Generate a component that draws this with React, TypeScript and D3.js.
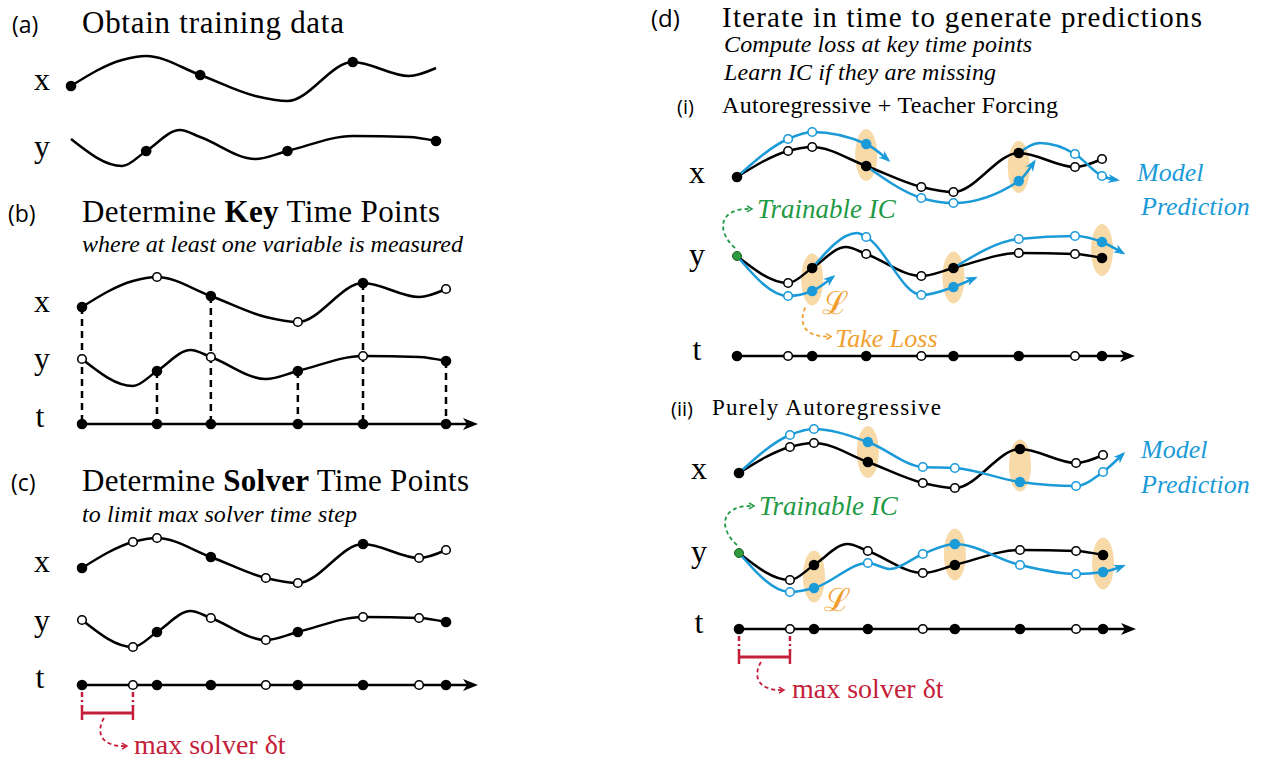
import React from 'react';
import * as d3 from 'd3';

type Pt = [number, number];

// time grid (arbitrary units 0..10)
const solverTimes = [0, 1.4, 2.06, 3.54, 5.05, 5.93, 7.72, 9.26, 10];
const xMeasuredTimes = [0, 3.54, 7.72];
const yMeasuredTimes = [2.06, 5.93, 10];

// ground truth signals [t, value]
const xTruth: Pt[] = [[0, -0.28], [1.4, 0.76], [2.06, 0.92], [3.54, 0.16], [5.05, -0.68], [5.93, -0.88], [7.72, 0.68], [9.26, 0.12], [10, 0.44]];
const yTruth: Pt[] = [[0, 0.12], [1.4, -0.96], [2.06, -0.36], [2.98, 0.48], [3.54, 0.2], [5.05, -0.68], [5.93, -0.36], [7.72, 0.24], [9.26, 0.2], [10, 0.04]];

// (d)(i) teacher forcing: prediction restarts at each measurement
const xTeacherForced: Pt[][] = [
  [[0, -0.28], [1.4, 1.24], [2.06, 1.52], [3.54, 1.04], [4.14, 0.4]],
  [[3.54, 0.16], [5.05, -1.12], [5.93, -1.32], [7.72, -0.44], [8.14, 0.32]],
  [[7.72, 0.68], [8.3, 1.08], [9.26, 0.64], [10, -0.24], [10.41, -0.4]],
];
const yTeacherForced: Pt[][] = [
  [[0, 0.12], [1.4, -1.48], [2.06, -1.28], [2.63, -0.72]],
  [[2.06, -0.36], [3.29, 1.04], [3.54, 0.88], [5.05, -1.44], [5.93, -1.12], [6.52, -0.76]],
  [[5.93, -0.36], [7.72, 0.8], [9.26, 0.92], [10, 0.68], [10.57, 0.24]],
];

// (d)(ii) purely autoregressive
const xAutoregressive: Pt[] = [[0, -0.28], [1.4, 1.24], [2.06, 1.48], [3.54, 0.96], [5.05, -0.04], [5.93, -0.08], [7.72, -0.64], [9.26, -0.8], [10, -0.24], [10.55, 0.48]];
const yAutoregressive: Pt[] = [[0, 0.12], [1.4, -1.44], [2.06, -1.28], [3.54, -0.28], [4.15, -0.52], [5.05, 0.08], [5.93, 0.48], [7.72, -0.36], [9.26, -0.72], [10, -0.64], [10.55, -0.4]];

const keyTimes = Array.from(new Set([...xMeasuredTimes, ...yMeasuredTimes])).sort((a, b) => a - b);

const BLUE = '#1b9ad8';
const GREEN = '#1f9a45';
const ORANGE = '#f0a030';
const RED = '#c41e3a';
const PEACH = '#f8d9a8';
const SERIF = '"Liberation Serif", "Times New Roman", serif';
const SANS = '"Open Sans", "DejaVu Sans", sans-serif';

const has = (arr: number[], t: number) => arr.some((v) => Math.abs(v - t) < 1e-6);
const valueAt = (s: Pt[], t: number) => {
  const p = s.find((d) => Math.abs(d[0] - t) < 1e-6);
  return p ? p[1] : NaN;
};
const rowScale = (center: number) => d3.scaleLinear().domain([-1, 1]).range([center + 25, center - 25]);
type Scale = d3.ScaleLinear<number, number>;
const curvePath = (s: Pt[], xs: Scale, ys: Scale) =>
  d3.line<Pt>().x((d) => xs(d[0])).y((d) => ys(d[1])).curve(d3.curveMonotoneX)(s) || '';

type Kind = 'fill' | 'open' | 'blueFill' | 'blueOpen' | 'green';
function Dot({ x, y, kind }: { x: number; y: number; kind: Kind }) {
  if (kind === 'fill') return <circle cx={x} cy={y} r={5.3} fill="#000" />;
  if (kind === 'open') return <circle cx={x} cy={y} r={4.3} fill="#fff" stroke="#000" strokeWidth={1.6} />;
  if (kind === 'blueFill') return <circle cx={x} cy={y} r={5.2} fill={BLUE} />;
  if (kind === 'blueOpen') return <circle cx={x} cy={y} r={4.3} fill="#fff" stroke={BLUE} strokeWidth={1.6} />;
  return <circle cx={x} cy={y} r={4.5} fill="#2e9a3c" stroke="#1d5f24" strokeWidth={1} />;
}

function TimeAxis({ xs, y, tipX, times }: { xs: Scale; y: number; tipX: number; times: number[] }) {
  return (
    <g>
      <line x1={xs(0)} x2={tipX - 8} y1={y} y2={y} stroke="#000" strokeWidth={2.5} />
      <polygon points={`${tipX},${y} ${tipX - 15},${y - 6} ${tipX - 11},${y} ${tipX - 15},${y + 6}`} fill="#000" />
      {times.map((t) => (
        <Dot key={t} x={xs(t)} y={y} kind={has(keyTimes, t) ? 'fill' : 'open'} />
      ))}
    </g>
  );
}

function Curve({ s, xs, ys, color = '#000', arrow = false }: { s: Pt[]; xs: Scale; ys: Scale; color?: string; arrow?: boolean }) {
  return (
    <path
      d={curvePath(s, xs, ys)}
      fill="none"
      stroke={color}
      strokeWidth={2.5}
      markerEnd={arrow ? 'url(#blueHead)' : undefined}
    />
  );
}

function Label({ x, y, children, size = 32 }: { x: number; y: number; children: string; size?: number }) {
  return (
    <text x={x} y={y} fontFamily={SERIF} fontSize={size} textAnchor="middle">
      {children}
    </text>
  );
}

function SolverBracket({ xs, axisY, textX }: { xs: Scale; axisY: number; textX: number }) {
  const a = xs(0);
  const b = xs(1.4);
  const hy = axisY + 28;
  return (
    <g stroke={RED} fill="none">
      <line x1={a} x2={a} y1={axisY + 7} y2={hy - 6} strokeWidth={2.5} strokeDasharray="5 3 2 3" />
      <line x1={b} x2={b} y1={axisY + 7} y2={hy - 6} strokeWidth={2.5} strokeDasharray="5 3 2 3" />
      <line x1={a} x2={b} y1={hy} y2={hy} strokeWidth={3} />
      <line x1={a} x2={a} y1={hy - 7} y2={hy + 7} strokeWidth={2.5} />
      <line x1={b} x2={b} y1={hy - 7} y2={hy + 7} strokeWidth={2.5} />
      <path
        d={`M${a + 22},${hy + 5} C${a + 13},${hy + 20} ${a + 20},${hy + 34} ${a + 44},${hy + 33}`}
        strokeWidth={1.8}
        strokeDasharray="4 3"
        markerEnd="url(#redHead)"
      />
      <text x={textX} y={axisY + 69} fill={RED} stroke="none" fontFamily={SERIF} fontSize={28}>
        max solver δt
      </text>
    </g>
  );
}

function Forecast({
  xs, xc, yc, axisY, tipX, xPred, yPred, takeLoss,
}: {
  xs: Scale; xc: number; yc: number; axisY: number; tipX: number; xPred: Pt[][]; yPred: Pt[][]; takeLoss: boolean;
}) {
  const ysX = rowScale(xc);
  const ysY = rowScale(yc);
  const rows = [
    { truth: xTruth, preds: xPred, measured: xMeasuredTimes, ys: ysX, name: 'x' },
    { truth: yTruth, preds: yPred, measured: yMeasuredTimes, ys: ysY, name: 'y' },
  ];
  const loss = rows.flatMap((r) =>
    r.preds.flatMap((seg) =>
      r.measured
        .filter((t) => t > seg[0][0] + 1e-6 && t <= seg[seg.length - 1][0])
        .map((t) => ({
          key: r.name + t,
          t,
          cy: (r.ys(valueAt(r.truth, t)) + r.ys(valueAt(seg, t))) / 2,
          first: r.name === 'y' && t === r.measured[0],
        }))
    )
  );
  const lossFirst = loss.find((l) => l.first)!;
  const ex = xs(lossFirst.t);
  const ey = lossFirst.cy;
  const gx = xs(0);
  const gy = ysY(valueAt(yTruth, 0));
  return (
    <g>
      {loss.map((l) => (
        <ellipse key={l.key} cx={xs(l.t)} cy={l.cy} rx={11} ry={26} fill={PEACH} />
      ))}
      {rows.map((r) => (
        <Curve key={'t' + r.name} s={r.truth} xs={xs} ys={r.ys} />
      ))}
      {rows.map((r) => r.preds.map((seg, i) => <Curve key={r.name + i} s={seg} xs={xs} ys={r.ys} color={BLUE} arrow />))}
      {rows.map((r) =>
        solverTimes.map((t) => {
          const kind: Kind = r.name === 'y' && t === 0 ? 'green' : has(r.measured, t) ? 'fill' : 'open';
          return <Dot key={r.name + 'k' + t} x={xs(t)} y={r.ys(valueAt(r.truth, t))} kind={kind} />;
        })
      )}
      {rows.map((r) =>
        r.preds.map((seg, i) =>
          solverTimes
            .filter((t) => t > seg[0][0] + 1e-6 && t <= seg[seg.length - 1][0])
            .map((t) => (
              <Dot key={r.name + i + 'p' + t} x={xs(t)} y={r.ys(valueAt(seg, t))} kind={has(r.measured, t) ? 'blueFill' : 'blueOpen'} />
            ))
        )
      )}
      <TimeAxis xs={xs} y={axisY} tipX={tipX} times={solverTimes} />
      {/* trainable IC */}
      <path
        d={`M${gx - 2},${gy - 8} C${gx - 20},${gy - 24} ${gx - 20},${gy - 48} ${gx + 14},${gy - 47}`}
        fill="none"
        stroke={GREEN}
        strokeWidth={1.8}
        strokeDasharray="4 3"
        markerEnd="url(#greenHead)"
      />
      <text x={gx + 20} y={gy - 38} fill={GREEN} fontFamily={SERIF} fontStyle="italic" fontSize={27}>
        Trainable IC
      </text>
      {/* loss */}
      <text x={ex + 10} y={ey + 34} fill={ORANGE} fontFamily='"DejaVu Serif", serif' fontSize={32}>
        ℒ
      </text>
      {takeLoss && (
        <g>
          <path
            d={`M${ex - 7},${ey + 28} C${ex - 14},${ey + 44} ${ex - 8},${ey + 58} ${ex + 18},${ey + 57}`}
            fill="none"
            stroke={ORANGE}
            strokeWidth={1.8}
            strokeDasharray="4 3"
            markerEnd="url(#orangeHead)"
          />
          <text x={ex + 23} y={ey + 67} fill={ORANGE} fontFamily={SERIF} fontStyle="italic" fontSize={26}>
            Take Loss
          </text>
        </g>
      )}
      <Label x={xs(0) - 40} y={xc + 13}>x</Label>
      <Label x={xs(0) - 40} y={yc + 6}>y</Label>
      <Label x={xs(0) - 40} y={axisY + 4}>t</Label>
    </g>
  );
}

export default function App() {
  const xsA = d3.scaleLinear().domain([0, 10]).range([71, 436]);
  const xsB = d3.scaleLinear().domain([0, 10]).range([82, 446]);
  const xsI = d3.scaleLinear().domain([0, 10]).range([737, 1102]);
  const xsII = d3.scaleLinear().domain([0, 10]).range([739, 1103]);

  const aX = rowScale(79);
  const aY = rowScale(142);
  const bX = rowScale(300);
  const bY = rowScale(362);
  const bAxis = 424;
  const cX = rowScale(561);
  const cY = rowScale(623);
  const cAxis = 685;

  return (
    <svg width={1272} height={764} style={{ position: 'absolute', left: 0, top: 0, display: 'block' }}>
      <defs>
        <marker id="blueHead" viewBox="0 0 12 10" refX={9} refY={5} markerWidth={12} markerHeight={10} markerUnits="userSpaceOnUse" orient="auto">
          <path d="M0,0.5 L12,5 L0,9.5 L3.5,5 Z" fill={BLUE} />
        </marker>
        {[
          ['greenHead', GREEN],
          ['orangeHead', ORANGE],
          ['redHead', RED],
        ].map(([id, c]) => (
          <marker key={id} id={id} viewBox="0 0 8 8" refX={5} refY={4} markerWidth={8} markerHeight={8} markerUnits="userSpaceOnUse" orient="auto">
            <path d="M1,1 L6,4 L1,7" fill="none" stroke={c} strokeWidth={1.5} />
          </marker>
        ))}
      </defs>
      <rect width={1272} height={764} fill="#fff" />

      {/* (a) */}
      <text x={12} y={33} fontFamily={SANS} fontSize={23}>(a)</text>
      <text x={82} y={33} fontFamily={SERIF} fontSize={31} textLength={262} lengthAdjust="spacing">Obtain training data</text>
      <Curve s={xTruth} xs={xsA} ys={aX} />
      <Curve s={yTruth} xs={xsA} ys={aY} />
      {xMeasuredTimes.map((t) => <Dot key={'ax' + t} x={xsA(t)} y={aX(valueAt(xTruth, t))} kind="fill" />)}
      {yMeasuredTimes.map((t) => <Dot key={'ay' + t} x={xsA(t)} y={aY(valueAt(yTruth, t))} kind="fill" />)}
      <Label x={42} y={90}>x</Label>
      <Label x={42} y={157}>y</Label>

      {/* (b) */}
      <text x={8} y={222} fontFamily={SANS} fontSize={23}>(b)</text>
      <text x={82} y={222} fontFamily={SERIF} fontSize={31} textLength={358} lengthAdjust="spacing">
        Determine <tspan fontWeight="bold">Key</tspan> Time Points
      </text>
      <text x={82} y={252} fontFamily={SERIF} fontStyle="italic" fontSize={24} textLength={381} lengthAdjust="spacing">
        where at least one variable is measured
      </text>
      {keyTimes.map((t) => {
        const y0 = has(xMeasuredTimes, t) ? bX(valueAt(xTruth, t)) : bY(valueAt(yTruth, t));
        return <line key={'d' + t} x1={xsB(t)} x2={xsB(t)} y1={y0} y2={bAxis} stroke="#000" strokeWidth={2.5} strokeDasharray="7 5" />;
      })}
      <Curve s={xTruth} xs={xsB} ys={bX} />
      <Curve s={yTruth} xs={xsB} ys={bY} />
      {keyTimes.map((t) => <Dot key={'bx' + t} x={xsB(t)} y={bX(valueAt(xTruth, t))} kind={has(xMeasuredTimes, t) ? 'fill' : 'open'} />)}
      {keyTimes.map((t) => <Dot key={'by' + t} x={xsB(t)} y={bY(valueAt(yTruth, t))} kind={has(yMeasuredTimes, t) ? 'fill' : 'open'} />)}
      <TimeAxis xs={xsB} y={bAxis} tipX={478} times={keyTimes} />
      <Label x={42} y={312}>x</Label>
      <Label x={42} y={369}>y</Label>
      <Label x={40} y={427}>t</Label>

      {/* (c) */}
      <text x={11} y={491} fontFamily={SANS} fontSize={23}>(c)</text>
      <text x={82} y={491} fontFamily={SERIF} fontSize={31} textLength={387} lengthAdjust="spacing">
        Determine <tspan fontWeight="bold">Solver</tspan> Time Points
      </text>
      <text x={82} y={522} fontFamily={SERIF} fontStyle="italic" fontSize={24} textLength={275} lengthAdjust="spacing">
        to limit max solver time step
      </text>
      <Curve s={xTruth} xs={xsB} ys={cX} />
      <Curve s={yTruth} xs={xsB} ys={cY} />
      {solverTimes.map((t) => <Dot key={'cx' + t} x={xsB(t)} y={cX(valueAt(xTruth, t))} kind={has(xMeasuredTimes, t) ? 'fill' : 'open'} />)}
      {solverTimes.map((t) => <Dot key={'cy' + t} x={xsB(t)} y={cY(valueAt(yTruth, t))} kind={has(yMeasuredTimes, t) ? 'fill' : 'open'} />)}
      <TimeAxis xs={xsB} y={cAxis} tipX={478} times={solverTimes} />
      <SolverBracket xs={xsB} axisY={cAxis} textX={134} />
      <Label x={42} y={572}>x</Label>
      <Label x={42} y={631}>y</Label>
      <Label x={40} y={688}>t</Label>

      {/* (d) */}
      <text x={651} y={27} fontFamily={SANS} fontSize={24}>(d)</text>
      <text x={722} y={27} fontFamily={SERIF} fontSize={29} textLength={480} lengthAdjust="spacing">
        Iterate in time to generate predictions
      </text>
      <text x={724} y={52} fontFamily={SERIF} fontStyle="italic" fontSize={24} textLength={308} lengthAdjust="spacing">
        Compute loss at key time points
      </text>
      <text x={724} y={80} fontFamily={SERIF} fontStyle="italic" fontSize={24} textLength={272} lengthAdjust="spacing">
        Learn IC if they are missing
      </text>

      <text x={677} y={114} fontFamily={SANS} fontSize={20}>(i)</text>
      <text x={722} y={113} fontFamily={SERIF} fontSize={24} textLength={336} lengthAdjust="spacing">
        Autoregressive + Teacher Forcing
      </text>
      <Forecast xs={xsI} xc={170} yc={259} axisY={356} tipX={1135} xPred={xTeacherForced} yPred={yTeacherForced} takeLoss />
      <text x={1137} y={181} fill={BLUE} fontFamily={SERIF} fontStyle="italic" fontSize={26}>Model</text>
      <text x={1141} y={215} fill={BLUE} fontFamily={SERIF} fontStyle="italic" fontSize={26}>Prediction</text>

      <text x={671} y={416} fontFamily={SANS} fontSize={20}>(ii)</text>
      <text x={712} y={415} fontFamily={SERIF} fontSize={23} textLength={229} lengthAdjust="spacing">
        Purely Autoregressive
      </text>
      <Forecast xs={xsII} xc={466} yc={556} axisY={629} tipX={1136} xPred={[xAutoregressive]} yPred={[yAutoregressive]} takeLoss={false} />
      <text x={1141} y={458} fill={BLUE} fontFamily={SERIF} fontStyle="italic" fontSize={26}>Model</text>
      <text x={1141} y={493} fill={BLUE} fontFamily={SERIF} fontStyle="italic" fontSize={26}>Prediction</text>
      <SolverBracket xs={xsII} axisY={629} textX={792} />
    </svg>
  );
}
